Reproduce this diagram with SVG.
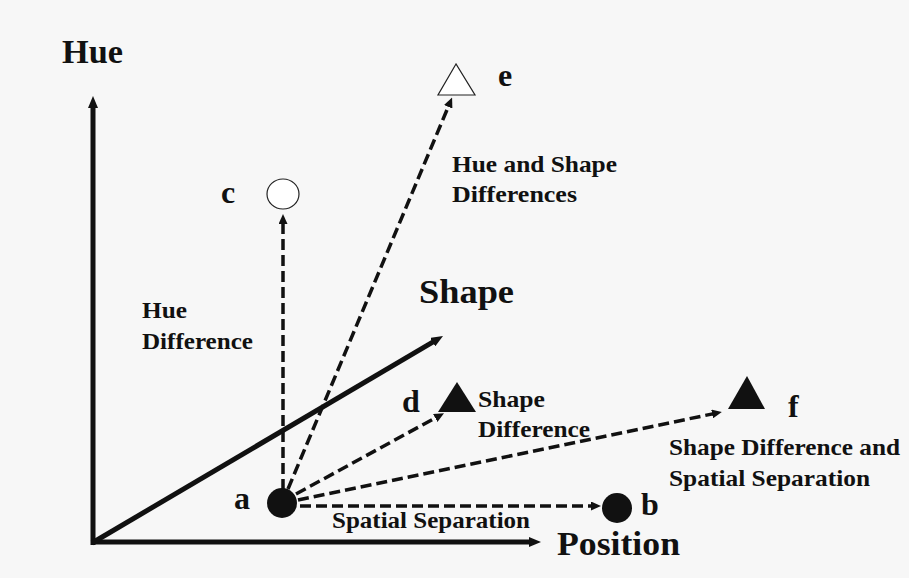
<svg xmlns="http://www.w3.org/2000/svg" width="909" height="578" viewBox="0 0 909 578">
<defs>
<style>
.bg{fill:#f7f7f7}
.axis{stroke:#111;stroke-width:5;fill:none}
.dash{stroke:#111;stroke-width:3.5;stroke-dasharray:11 5;fill:none}
.big{font-family:"Liberation Serif","Times New Roman",serif;font-weight:bold;fill:#111}
.ax{font-size:34px}
.let{font-size:32px}
.lbl{font-size:24px}
.dot{fill:#111}
.hollow{fill:#fff;stroke:#222;stroke-width:1.2}
</style>
<marker id="axhead" viewBox="0 0 12 10" refX="2" refY="5" markerWidth="12" markerHeight="10" markerUnits="userSpaceOnUse" orient="auto">
<path d="M0,0 L12,5 L0,10 z" fill="#111"/>
</marker>
<marker id="dhead" viewBox="0 0 10 9" refX="2" refY="4.5" markerWidth="10" markerHeight="9" markerUnits="userSpaceOnUse" orient="auto">
<path d="M0,0 L10,4.5 L0,9 z" fill="#111"/>
</marker>
</defs>
<rect class="bg" x="0" y="0" width="909" height="578"/>

<g id="axes">
<line class="axis" x1="93" y1="545" x2="93" y2="106" marker-end="url(#axhead)"/>
<line class="axis" x1="91" y1="542" x2="531" y2="542" marker-end="url(#axhead)"/>
<line class="axis" x1="92" y1="543" x2="434.4" y2="341.1" marker-end="url(#axhead)"/>
<text class="big ax" x="62" y="63" textLength="61" lengthAdjust="spacingAndGlyphs">Hue</text>
<text class="big ax" x="419" y="303" textLength="95" lengthAdjust="spacingAndGlyphs">Shape</text>
<text class="big ax" x="557" y="555" textLength="123" lengthAdjust="spacingAndGlyphs">Position</text>
</g>

<g id="connectors">
<line class="dash" x1="283" y1="490" x2="283" y2="222" marker-end="url(#dhead)"/>
<line class="dash" x1="288" y1="489" x2="449" y2="105" marker-end="url(#dhead)"/>
<line class="dash" x1="296" y1="494" x2="437" y2="417" marker-end="url(#dhead)"/>
<line class="dash" x1="298" y1="500" x2="714" y2="413.6" marker-end="url(#dhead)"/>
<line class="dash" x1="300" y1="506" x2="593" y2="506" marker-end="url(#dhead)"/>
<text class="big lbl" x="142" y="318" textLength="45" lengthAdjust="spacingAndGlyphs">Hue</text>
<text class="big lbl" x="142" y="349" textLength="111" lengthAdjust="spacingAndGlyphs">Difference</text>
<text class="big lbl" x="452" y="172" textLength="165" lengthAdjust="spacingAndGlyphs">Hue and Shape</text>
<text class="big lbl" x="452" y="202" textLength="125" lengthAdjust="spacingAndGlyphs">Differences</text>
<text class="big lbl" x="478" y="407" textLength="67" lengthAdjust="spacingAndGlyphs">Shape</text>
<text class="big lbl" x="478" y="437" textLength="112" lengthAdjust="spacingAndGlyphs">Difference</text>
<text class="big lbl" x="669" y="455" textLength="231" lengthAdjust="spacingAndGlyphs">Shape Difference and</text>
<text class="big lbl" x="669" y="486" textLength="201" lengthAdjust="spacingAndGlyphs">Spatial Separation</text>
<text class="big lbl" x="332" y="528" textLength="198" lengthAdjust="spacingAndGlyphs">Spatial Separation</text>
</g>

<g id="node-a">
<circle class="dot" cx="282" cy="503" r="15"/>
<text class="big let" x="234" y="509">a</text>
</g>
<g id="node-b">
<circle class="dot" cx="617" cy="508" r="15"/>
<text class="big let" x="641" y="515">b</text>
</g>
<g id="node-c">
<ellipse class="hollow" cx="283" cy="194" rx="16" ry="15"/>
<text class="big let" x="221" y="203">c</text>
</g>
<g id="node-d">
<polygon class="dot" points="457,382 438,412 476,412"/>
<text class="big let" x="402" y="412">d</text>
</g>
<g id="node-e">
<polygon class="hollow" points="456,64 438,95 475,95"/>
<text class="big let" x="498" y="86">e</text>
</g>
<g id="node-f">
<polygon class="dot" points="747,376 728,409 765,409"/>
<text class="big let" x="788" y="417">f</text>
</g>
</svg>
